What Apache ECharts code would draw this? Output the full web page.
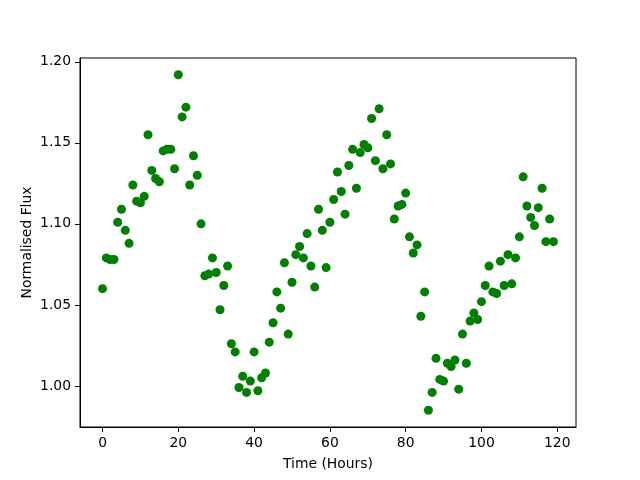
<!DOCTYPE html>
<html>
<head>
<meta charset="utf-8">
<script src="https://cdn.jsdelivr.net/npm/echarts@6/dist/echarts.min.js"></script>
<style>
  html, body { margin: 0; padding: 0; background: #fff; }
  #chart { width: 640px; height: 480px; }
</style>
</head>
<body>
<div id="chart"></div>
<script>
// hours 0..119, one sample per hour
const hours = [];
for (let h = 0; h < 120; h++) hours.push(h);

// normalised flux
const flux = [
  1.060, 1.079, 1.078, 1.078, 1.101, 1.109, 1.096, 1.088, 1.124, 1.114,
  1.113, 1.117, 1.155, 1.133, 1.128, 1.126, 1.145, 1.146, 1.146, 1.134,
  1.192, 1.166, 1.172, 1.124, 1.142, 1.130, 1.100, 1.068, 1.069, 1.079,
  1.070, 1.047, 1.062, 1.074, 1.026, 1.021, 0.999, 1.006, 0.996, 1.003,
  1.021, 0.997, 1.005, 1.008, 1.027, 1.039, 1.058, 1.048, 1.076, 1.032,
  1.064, 1.081, 1.086, 1.079, 1.094, 1.074, 1.061, 1.109, 1.096, 1.073,
  1.101, 1.115, 1.132, 1.120, 1.106, 1.136, 1.146, 1.122, 1.144, 1.149,
  1.147, 1.165, 1.139, 1.171, 1.134, 1.155, 1.137, 1.103, 1.111, 1.112,
  1.119, 1.092, 1.082, 1.087, 1.043, 1.058, 0.985, 0.996, 1.017, 1.004,
  1.003, 1.014, 1.012, 1.016, 0.998, 1.032, 1.014, 1.040, 1.045, 1.041,
  1.052, 1.062, 1.074, 1.058, 1.057, 1.077, 1.062, 1.081, 1.063, 1.079,
  1.092, 1.129, 1.111, 1.104, 1.099, 1.110, 1.122, 1.089, 1.103, 1.089
];

const xTicks = [0, 20, 40, 60, 80, 100, 120];
const yTicks = [1.00, 1.05, 1.10, 1.15, 1.20];

// matplotlib style 5% margins
function padRange(arr) {
  const lo = Math.min(...arr), hi = Math.max(...arr);
  const m = (hi - lo) * 0.05;
  return [lo - m, hi + m];
}
const xRange = padRange(hours);
const yRange = padRange(flux);

const points = hours.map((h, i) => [h, flux[i]]);

const font = 'DejaVu Sans';
const chart = echarts.init(document.getElementById('chart'));

chart.setOption({
  animation: false,
  grid: {
    left: 80, right: 64, top: 58, bottom: 53,
    show: true, borderColor: '#000', borderWidth: 1, backgroundColor: '#fff'
  },
  xAxis: {
    type: 'value',
    min: xRange[0], max: xRange[1],
    name: 'Time (Hours)',
    nameLocation: 'middle',
    nameGap: 30,
    nameMoveOverlap: false,
    nameTextStyle: { fontFamily: font, fontSize: 13.9, color: '#000' },
    axisLine: { show: true, onZero: false, lineStyle: { color: '#000', width: 1 } },
    axisTick: { show: true, length: 5, lineStyle: { color: '#000' }, customValues: xTicks },
    axisLabel: {
      fontFamily: font, fontSize: 13.9, color: '#000', margin: 9,
      customValues: xTicks
    },
    splitLine: { show: false }
  },
  yAxis: {
    type: 'value',
    min: yRange[0], max: yRange[1],
    name: 'Normalised Flux',
    nameLocation: 'middle',
    nameGap: 46,
    nameRotate: 90,
    nameMoveOverlap: false,
    nameTextStyle: { fontFamily: font, fontSize: 13.9, color: '#000' },
    axisLine: { show: true, onZero: false, lineStyle: { color: '#000', width: 1 } },
    axisTick: { show: true, length: 5, lineStyle: { color: '#000' }, customValues: yTicks },
    axisLabel: {
      fontFamily: font, fontSize: 13.9, color: '#000', margin: 9,
      customValues: yTicks,
      formatter: v => v.toFixed(2)
    },
    splitLine: { show: false }
  },
  series: [{
    type: 'scatter',
    data: points,
    symbol: 'circle',
    symbolSize: 9,
    itemStyle: { color: '#008000', opacity: 1 }
  }]
});
</script>
</body>
</html>
